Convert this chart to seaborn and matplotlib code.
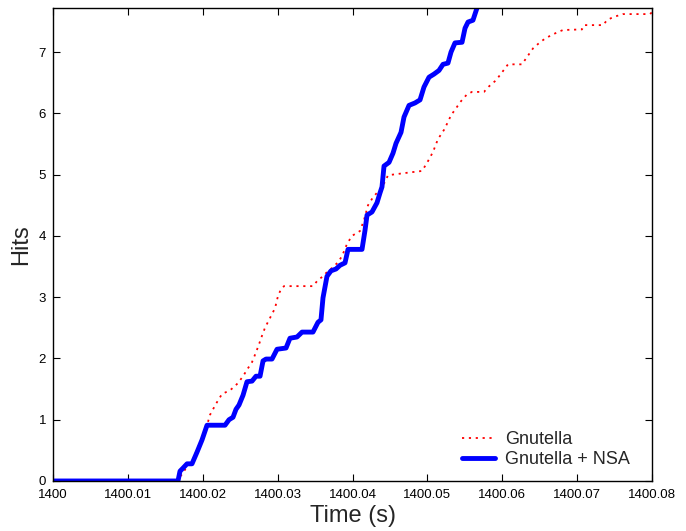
import matplotlib
matplotlib.use("Agg")
import matplotlib.pyplot as plt
import numpy as np
import pandas as pd
import seaborn as sns

# Cumulative hits over time for the two systems
gnutella_t = [1400.0, 1400.01669, 1400.01696, 1400.01736, 1400.0179, 1400.01856, 1400.01923,
              1400.0199, 1400.02057, 1400.02097, 1400.02177, 1400.02257, 1400.02364, 1400.02431,
              1400.02471, 1400.02538, 1400.02604, 1400.02658, 1400.02711, 1400.02751, 1400.02791,
              1400.02831, 1400.02898, 1400.02965, 1400.03005, 1400.03045, 1400.03085, 1400.03472,
              1400.03539, 1400.03606, 1400.03659, 1400.0374, 1400.03806, 1400.0386, 1400.03927,
              1400.03993, 1400.041, 1400.04154, 1400.04207, 1400.04274, 1400.04367, 1400.04434,
              1400.04474, 1400.04661, 1400.04928, 1400.04995, 1400.05075, 1400.05142, 1400.05222,
              1400.05275, 1400.05316, 1400.05382, 1400.05436, 1400.05529, 1400.05596, 1400.05756,
              1400.05823, 1400.05917, 1400.0601, 1400.06077, 1400.06264, 1400.06331, 1400.06411,
              1400.06504, 1400.06584, 1400.06664, 1400.06731, 1400.06811, 1400.07065, 1400.07092,
              1400.07346, 1400.07399, 1400.07479, 1400.07613, 1400.07973, 1400.08]
gnutella_hits = [0, 0, 0.07, 0.13, 0.24, 0.31, 0.51, 0.70, 0.91, 1.08, 1.26, 1.42, 1.48, 1.55,
                 1.60, 1.71, 1.84, 1.94, 2.10, 2.23, 2.37, 2.50, 2.66, 2.82, 3.02, 3.13, 3.18,
                 3.18, 3.28, 3.34, 3.41, 3.49, 3.57, 3.67, 3.87, 4.00, 4.08, 4.26, 4.50, 4.63,
                 4.76, 4.88, 4.99, 5.02, 5.06, 5.19, 5.37, 5.58, 5.73, 5.86, 5.97, 6.08, 6.18,
                 6.31, 6.35, 6.35, 6.44, 6.54, 6.69, 6.80, 6.80, 6.92, 7.06, 7.16, 7.23, 7.28,
                 7.32, 7.36, 7.37, 7.44, 7.44, 7.52, 7.57, 7.62, 7.62, 7.65]

nsa_t = [1400.0, 1400.01669, 1400.01696, 1400.01736, 1400.0179, 1400.01856, 1400.01923,
         1400.0199, 1400.02057, 1400.02297, 1400.02351, 1400.02404, 1400.02444, 1400.02484,
         1400.02538, 1400.02591, 1400.02658, 1400.02711, 1400.02765, 1400.02805, 1400.02845,
         1400.02925, 1400.02992, 1400.03112, 1400.03165, 1400.03259, 1400.03326, 1400.03472,
         1400.03539, 1400.03579, 1400.03606, 1400.03659, 1400.03713, 1400.0378, 1400.03833,
         1400.039, 1400.0394, 1400.04127, 1400.04167, 1400.04194, 1400.0426, 1400.04327,
         1400.04367, 1400.04394, 1400.04421, 1400.04488, 1400.04541, 1400.04581, 1400.04648,
         1400.04688, 1400.04755, 1400.04835, 1400.04902, 1400.04955, 1400.05022, 1400.05088,
         1400.05155, 1400.05209, 1400.05275, 1400.05316, 1400.05369, 1400.05463, 1400.05503,
         1400.05543, 1400.05609, 1400.05663, 1400.05676]
nsa_hits = [0, 0, 0.16, 0.21, 0.28, 0.28, 0.47, 0.67, 0.91, 0.91, 1.00, 1.04, 1.17, 1.24,
            1.40, 1.62, 1.63, 1.71, 1.71, 1.96, 1.99, 1.99, 2.15, 2.17, 2.33, 2.35, 2.43,
            2.43, 2.59, 2.63, 2.99, 3.34, 3.43, 3.46, 3.52, 3.56, 3.78, 3.78, 4.09, 4.34,
            4.39, 4.54, 4.70, 4.80, 5.14, 5.20, 5.35, 5.51, 5.69, 5.94, 6.13, 6.17, 6.22,
            6.43, 6.59, 6.64, 6.70, 6.80, 6.82, 7.00, 7.15, 7.16, 7.39, 7.49, 7.52, 7.72, 7.78]

x_ticks = [1400.0, 1400.01, 1400.02, 1400.03, 1400.04, 1400.05, 1400.06, 1400.07, 1400.08]
x_tick_labels = ["1400", "1400.01", "1400.02", "1400.03", "1400.04",
                 "1400.05", "1400.06", "1400.07", "1400.08"]
y_ticks = [0, 1, 2, 3, 4, 5, 6, 7]

sns.set_theme(style="ticks")
plt.rcParams["font.family"] = ["Liberation Sans", "DejaVu Sans"]

fig = plt.figure(figsize=(6.86, 5.31), dpi=100)
ax = fig.add_axes([0.0773, 0.0942, 0.8731, 0.8908])

df_g = pd.DataFrame({"t": gnutella_t, "hits": gnutella_hits})
df_n = pd.DataFrame({"t": nsa_t, "hits": nsa_hits})

sns.lineplot(data=df_g, x="t", y="hits", ax=ax, sort=False, estimator=None,
             color="#ff0000", linewidth=1.3, linestyle=(0, (1.2, 2.6)), label="Gnutella")
sns.lineplot(data=df_n, x="t", y="hits", ax=ax, sort=False, estimator=None,
             color="#0000ff", linewidth=3.5, label="Gnutella + NSA")

ax.set_xlim(1400.0, 1400.08)
ax.set_ylim(0, 7.72)
ax.set_xticks(x_ticks)
ax.set_xticklabels(x_tick_labels)
ax.set_yticks(y_ticks)
ax.tick_params(direction="in", length=5, width=0.8, top=True, right=True,
               labelsize=9.5, colors="black")
ax.tick_params(axis="x", pad=5.5)
ax.tick_params(axis="y", pad=5)
for s in ax.spines.values():
    s.set_visible(True)
    s.set_linewidth(1.0)
    s.set_color("black")

ax.set_xlabel("Time (s)", fontsize=17, labelpad=3)
ax.set_ylabel("Hits", fontsize=17, labelpad=5)

leg = ax.legend(loc="lower right", frameon=False, fontsize=13, handlelength=1.8,
                handletextpad=0.55, labelspacing=0.15, borderaxespad=0.0,
                bbox_to_anchor=(0.975, 0.012))

fig.savefig("out.png", dpi=100)
